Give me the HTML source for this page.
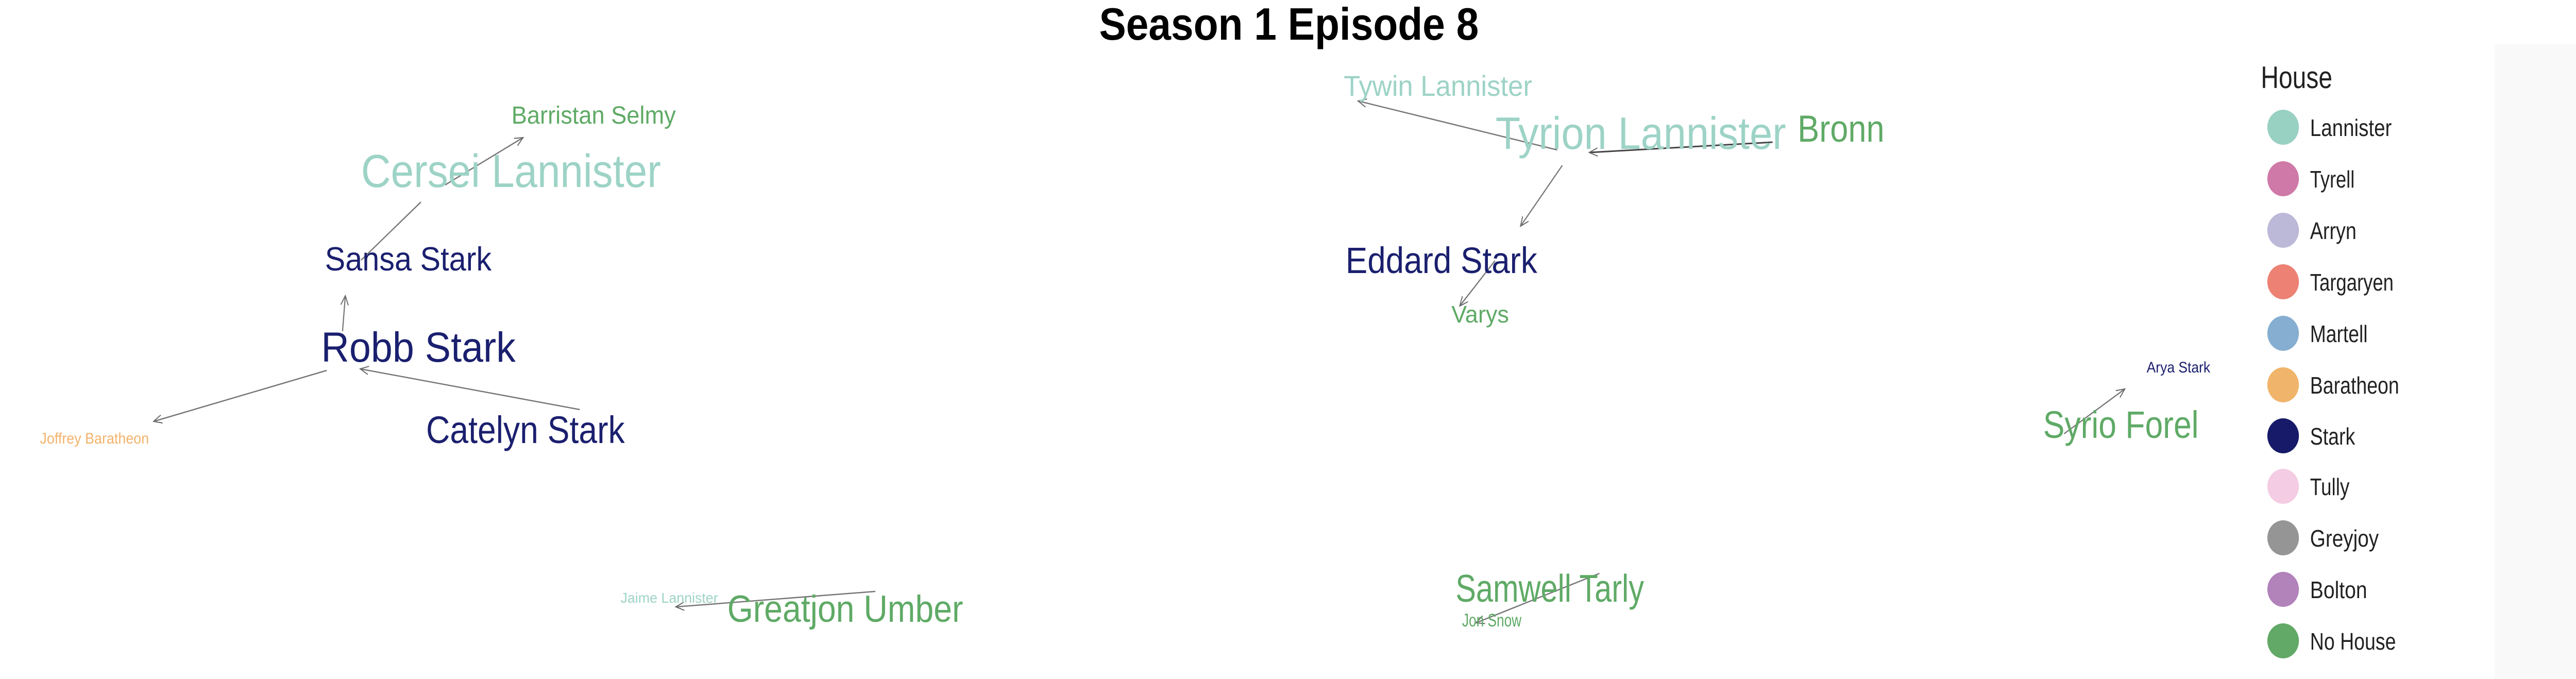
<!DOCTYPE html>
<html><head><meta charset="utf-8"><style>
html,body{margin:0;padding:0;background:#fff;width:100%;height:100%;overflow:hidden;}
svg{display:block;position:absolute;left:0;top:0;width:100vw;height:100vh;}
text{font-family:"Liberation Sans",sans-serif;}
</style></head><body>
<svg viewBox="0 0 5550 1318" preserveAspectRatio="none" xmlns="http://www.w3.org/2000/svg">
<defs>
<marker id="a" markerWidth="30" markerHeight="30" refX="20" refY="10" orient="auto" markerUnits="userSpaceOnUse">
<path d="M2,2 L20,10 L2,18" fill="none" stroke="#666" stroke-width="2"/>
</marker>
</defs>
<rect x="0" y="0" width="5550" height="1318" fill="#fff"/>
<rect x="5375" y="85" width="175" height="1233" fill="#f9f9f9"/>
<text x="2368" y="77" font-size="88" font-weight="bold" fill="#000" textLength="818" lengthAdjust="spacingAndGlyphs">Season 1 Episode 8</text>

<g stroke="#777" stroke-width="2.5" fill="none">
<line x1="778" y1="505" x2="907" y2="392"/>
<line x1="959" y1="359" x2="1127" y2="267" marker-end="url(#a)"/>
<line x1="738" y1="643" x2="744" y2="574" marker-end="url(#a)"/>
<line x1="704" y1="719" x2="331" y2="818" marker-end="url(#a)"/>
<line x1="1249" y1="795" x2="776" y2="716" marker-end="url(#a)"/>
<line x1="3355" y1="291" x2="2926" y2="196" marker-end="url(#a)"/>
<line x1="3819" y1="276" x2="3424" y2="296" stroke="#444" stroke-width="3" marker-end="url(#a)"/>
<line x1="3366" y1="321" x2="3276" y2="439" marker-end="url(#a)"/>
<line x1="3221" y1="506" x2="3145" y2="594" marker-end="url(#a)"/>
<line x1="4447" y1="842" x2="4578" y2="755" marker-end="url(#a)"/>
<line x1="1886" y1="1148" x2="1456" y2="1178" marker-end="url(#a)"/>
<line x1="3446" y1="1113" x2="3180" y2="1209" marker-end="url(#a)"/>
</g>

<g>
<text x="1102" y="240" font-size="48" fill="#5faa66" textLength="354" lengthAdjust="spacingAndGlyphs">Barristan Selmy</text>
<text x="778" y="363" font-size="90" fill="#9dd3c6" textLength="646" lengthAdjust="spacingAndGlyphs">Cersei Lannister</text>
<text x="700" y="525" font-size="65" fill="#1a1f6e" textLength="359" lengthAdjust="spacingAndGlyphs">Sansa Stark</text>
<text x="692" y="702" font-size="82" fill="#1a1f6e" textLength="419" lengthAdjust="spacingAndGlyphs">Robb Stark</text>
<text x="918" y="860" font-size="74" fill="#1a1f6e" textLength="428" lengthAdjust="spacingAndGlyphs">Catelyn Stark</text>
<text x="86" y="861" font-size="30" fill="#f2b36b" textLength="235" lengthAdjust="spacingAndGlyphs">Joffrey Baratheon</text>
<text x="2895" y="186" font-size="56" fill="#9dd3c6" textLength="406" lengthAdjust="spacingAndGlyphs">Tywin Lannister</text>
<text x="3222" y="289" font-size="88" fill="#9dd3c6" textLength="626" lengthAdjust="spacingAndGlyphs">Tyrion Lannister</text>
<text x="3873" y="275" font-size="73" fill="#5faa66" textLength="187" lengthAdjust="spacingAndGlyphs">Bronn</text>
<text x="2899" y="530" font-size="71" fill="#1a1f6e" textLength="413" lengthAdjust="spacingAndGlyphs">Eddard Stark</text>
<text x="3127" y="626" font-size="46" fill="#5faa66" textLength="124" lengthAdjust="spacingAndGlyphs">Varys</text>
<text x="4625" y="723" font-size="30" fill="#1a1f6e" textLength="137" lengthAdjust="spacingAndGlyphs">Arya Stark</text>
<text x="4402" y="850" font-size="74" fill="#5faa66" textLength="335" lengthAdjust="spacingAndGlyphs">Syrio Forel</text>
<text x="1337" y="1170" font-size="28" fill="#9dd3c6" textLength="210" lengthAdjust="spacingAndGlyphs">Jaime Lannister</text>
<text x="1567" y="1207" font-size="73" fill="#5faa66" textLength="508" lengthAdjust="spacingAndGlyphs">Greatjon Umber</text>
<text x="3136" y="1168" font-size="75" fill="#5faa66" textLength="406" lengthAdjust="spacingAndGlyphs">Samwell Tarly</text>
<text x="3150" y="1216" font-size="35" fill="#5faa66" textLength="128" lengthAdjust="spacingAndGlyphs">Jon Snow</text>
</g>

<text x="4871" y="171" font-size="60" fill="#222" textLength="154" lengthAdjust="spacingAndGlyphs">House</text>
<g font-size="46" fill="#222">
<circle cx="4919" cy="247" r="34" fill="#98d0c2"/><text x="4977" y="264" textLength="176" lengthAdjust="spacingAndGlyphs">Lannister</text>
<circle cx="4919" cy="347" r="34" fill="#cf79a8"/><text x="4977" y="364" textLength="96" lengthAdjust="spacingAndGlyphs">Tyrell</text>
<circle cx="4919" cy="447" r="34" fill="#bcb8d8"/><text x="4977" y="464" textLength="100" lengthAdjust="spacingAndGlyphs">Arryn</text>
<circle cx="4919" cy="547" r="34" fill="#ec8174"/><text x="4977" y="564" textLength="180" lengthAdjust="spacingAndGlyphs">Targaryen</text>
<circle cx="4919" cy="647" r="34" fill="#86aed1"/><text x="4977" y="664" textLength="124" lengthAdjust="spacingAndGlyphs">Martell</text>
<circle cx="4919" cy="747" r="34" fill="#f1b46b"/><text x="4977" y="764" textLength="192" lengthAdjust="spacingAndGlyphs">Baratheon</text>
<circle cx="4919" cy="846" r="34" fill="#161a68"/><text x="4977" y="863" textLength="97" lengthAdjust="spacingAndGlyphs">Stark</text>
<circle cx="4919" cy="944" r="34" fill="#f4cce3"/><text x="4977" y="961" textLength="85" lengthAdjust="spacingAndGlyphs">Tully</text>
<circle cx="4919" cy="1044" r="34" fill="#959595"/><text x="4977" y="1061" textLength="148" lengthAdjust="spacingAndGlyphs">Greyjoy</text>
<circle cx="4919" cy="1144" r="34" fill="#b282bb"/><text x="4977" y="1161" textLength="123" lengthAdjust="spacingAndGlyphs">Bolton</text>
<circle cx="4919" cy="1244" r="34" fill="#62a866"/><text x="4977" y="1261" textLength="185" lengthAdjust="spacingAndGlyphs">No House</text>
</g>
</svg>
</body></html>
